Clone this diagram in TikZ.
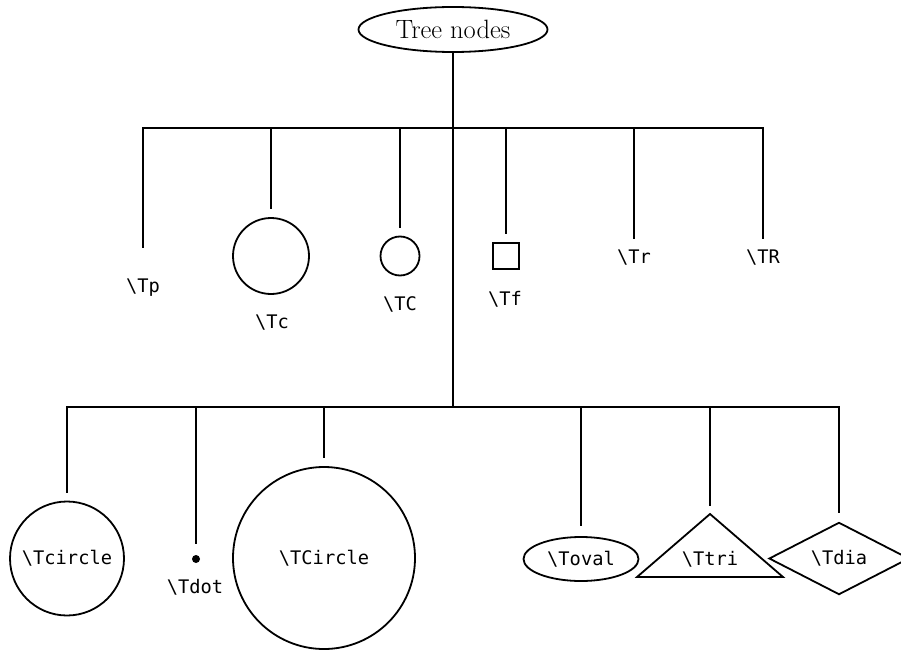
\documentclass[tikz,border=0pt]{standalone}
\usepackage{fontspec}
\newfontfamily\codefont{DejaVu Sans Mono}
\usetikzlibrary{shapes.geometric}

\begin{document}
\begin{tikzpicture}[x=1pt, y=-1pt, line width=1.8pt,
  code/.style={font=\codefont\fontsize{18.7}{20}\selectfont, inner sep=0pt},
  codebase/.style={code, anchor=base},
  outline/.style={draw, line width=1.8pt, inner sep=0pt},
  conn/.style={line width=2pt, shorten >=8pt},
]
\useasboundingbox (0,0) rectangle (901,650);

% root
\node[outline, ellipse, minimum width=189pt, minimum height=45pt,
      font=\fontsize{26.5}{30}\selectfont] (root) at (453,29.5) {Tree nodes};
\coordinate (hubA) at (453,128);
\coordinate (hubB) at (453,407);

% first family
\coordinate (tp) at (143,256);
\node[codebase] (tpl) at (143,292) {\textbackslash Tp};
\node[outline, circle, minimum size=76pt] (tc) at (271,256) {};
\node[codebase] (tcl) at (272,328) {\textbackslash Tc};
\node[outline, circle, minimum size=39pt] (tC) at (400,256) {};
\node[codebase] (tCl) at (400,310) {\textbackslash TC};
\node[outline, rectangle, minimum size=26pt] (tf) at (506,256) {};
\node[codebase] (tfl) at (505,305) {\textbackslash Tf};
\node[codebase] (tr) at (634,263) {\textbackslash Tr};
\node[codebase] (tR) at (763,263) {\textbackslash TR};

% second family
\node[outline, circle, minimum size=114pt, code] (tcircle) at (67,558.5) {\textbackslash Tcircle};
\node[circle, fill, minimum size=8pt, inner sep=0pt] (tdot) at (196,559) {};
\node[codebase] (tdotl) at (195,593) {\textbackslash Tdot};
\node[outline, circle, minimum size=182pt, code] (tCircle) at (324,558) {\textbackslash TCircle};
\node[outline, ellipse, minimum width=115pt, minimum height=44pt, code] (toval) at (581,559) {\textbackslash Toval};
\coordinate (triapex) at (710,514);
\coordinate (trileft) at (637,577);
\coordinate (triright) at (783,577);
\draw[line join=miter] (triapex) -- (triright) -- (trileft) -- cycle;
\node[codebase] (ttri) at (710,565) {\textbackslash Ttri};
\node[outline, diamond, minimum width=140pt, minimum height=63pt, code] (tdia) at (839,558.5) {\textbackslash Tdia};

% connectors
\draw[line width=2pt] (root.south) -- (hubB);
\draw[conn] (hubA) -| (tp);
\draw[conn] (hubA) -| (tc.north);
\draw[conn] (hubA) -| (tC.north);
\draw[conn] (hubA) -| (tf.north);
\draw[conn, shorten >=9pt] (hubA) -| (tr.north);
\draw[conn, shorten >=9pt] (hubA) -| (tR.north);

\draw[conn] (hubB) -| (tcircle.north);
\draw[conn, shorten >=10pt] (hubB) -| (tdot.north);
\draw[conn] (hubB) -| (tCircle.north);
\draw[conn, shorten >=10pt] (hubB) -| (toval.north);
\draw[conn] (hubB) -| (triapex);
\draw[conn] (hubB) -| (tdia.north);
\end{tikzpicture}
\end{document}
